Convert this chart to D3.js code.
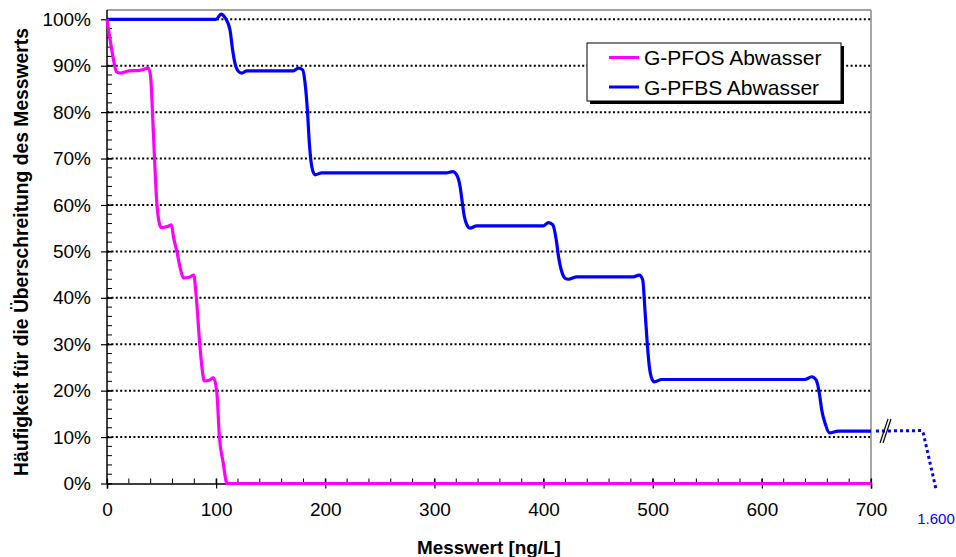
<!DOCTYPE html>
<html>
<head>
<meta charset="utf-8">
<script src="https://cdn.jsdelivr.net/npm/d3@7"></script>
<style>
  body { margin: 0; background: #fff; }
  svg { font-family: "Liberation Sans", Arial, sans-serif; }
</style>
</head>
<body>
<svg id="chart" width="956" height="557"></svg>
<script>
// Messwert [ng/L], Häufigkeit [%]
var pfos = [
  [0, 100], [4.3, 93.5], [9, 88.6], [12, 88.4], [20, 88.9], [30, 89.0], [38, 89.5],
  [40, 87.5], [42.5, 75.5], [45.5, 61], [48, 56], [50, 55.1], [56, 55.4], [59, 55.7],
  [61, 53], [64, 50], [67, 46.5], [70, 44.3], [76, 44.5], [79.5, 44.9], [81.5, 41],
  [85, 30], [88, 23.2], [89, 22.1], [94, 22.3], [97.4, 22.8], [100.5, 20], [103, 10],
  [106.5, 4.4], [110, 0], [700, 0]
];
var pfbs = [
  [0, 100], [100, 100], [104.6, 101.1], [108, 100.4], [112.7, 97.7], [115.1, 93.4],
  [117.2, 90.6], [120.3, 88.8], [123.4, 88.4], [128, 88.9], [170.7, 88.9], [175.3, 89.5],
  [179.3, 89.1], [181.5, 86.2], [183.6, 80.5], [185.4, 73.3], [187.6, 68.3], [190.6, 66.5],
  [196.7, 66.9], [311, 66.9], [316.7, 67.2], [320.4, 66.5], [323.5, 64], [325.6, 60.4],
  [327.4, 57.5], [330.2, 55.5], [332.6, 55.0], [338.7, 55.5], [400, 55.5], [404.5, 56.2],
  [408.5, 55.7], [411.6, 52.5], [413.7, 48.9], [416.7, 45.6], [419.8, 44.2], [422.8, 44.0],
  [430.5, 44.5], [482, 44.5], [487.7, 44.9], [490.8, 43.9], [492.9, 37.4], [495, 30.2],
  [496.9, 25.2], [499, 22.7], [501.5, 21.9], [508.2, 22.4], [639.5, 22.4], [645.7, 23.0],
  [649.7, 22.3], [652.7, 19.4], [654.9, 15.8], [657.9, 13], [661.9, 10.9], [670.2, 11.3],
  [700, 11.3]
];
// continuation after the axis break (up to the last value 1.600 ng/L)
var pfbsBreak = [[700, 11.3], [1385, 11.4], [1410, 10.8], [1600, -1.2]];
var breakLabel = "1.600";

var xTicks = [0, 100, 200, 300, 400, 500, 600, 700];
var yTicks = [0, 10, 20, 30, 40, 50, 60, 70, 80, 90, 100];
var legendNames = ["G-PFOS Abwasser", "G-PFBS Abwasser"];
var colors = ["#ff00ff", "#0000ff"];

var svg = d3.select("#chart");
var pl = 107, pr = 871, pt = 10, pb = 483.5;

var x = d3.scaleLinear().domain([0, 700]).range([pl, pr]);
var y = d3.scaleLinear().domain([0, 102]).range([pb, pt]);
var xb = d3.scaleLinear().domain([700, 1600]).range([pr + 5, 936]);

// grid
svg.append("g").selectAll("line")
  .data(yTicks.filter(function(d) { return d > 0; }))
  .join("line")
  .attr("x1", pl).attr("x2", pr)
  .attr("y1", function(d) { return y(d); }).attr("y2", function(d) { return y(d); })
  .attr("stroke", "#000").attr("stroke-width", 2)
  .attr("stroke-dasharray", "2,2.4");

// frame top / right
svg.append("line").attr("x1", pl).attr("x2", pr).attr("y1", pt).attr("y2", pt)
  .attr("stroke", "#444").attr("stroke-width", 1);
svg.append("line").attr("x1", pr).attr("x2", pr).attr("y1", pt).attr("y2", pb)
  .attr("stroke", "#888").attr("stroke-width", 1.5);

// minor ticks (inside)
var minorX = d3.range(0, 701, 20);
var minorY = d3.range(0, 101, 2);
svg.append("g").selectAll("line").data(minorX).join("line")
  .attr("x1", function(d) { return x(d); }).attr("x2", function(d) { return x(d); })
  .attr("y1", pb).attr("y2", pb - 5)
  .attr("stroke", "#000").attr("stroke-width", 1);
svg.append("g").selectAll("line").data(minorY).join("line")
  .attr("y1", function(d) { return y(d); }).attr("y2", function(d) { return y(d); })
  .attr("x1", pl).attr("x2", pl + 5)
  .attr("stroke", "#000").attr("stroke-width", 1);

// axes
var xAxis = svg.append("g")
  .attr("transform", "translate(0," + pb + ")")
  .call(d3.axisBottom(x).tickValues(xTicks).tickSize(5).tickPadding(14).tickFormat(d3.format("d")));
xAxis.select(".domain").attr("stroke", "#000").attr("stroke-width", 1.5);
xAxis.selectAll(".tick line").attr("y1", -5).attr("stroke-width", 1.2);
xAxis.selectAll("text").attr("font-size", 19).attr("fill", "#000").attr("font-family", "Liberation Sans, Arial");

var yAxis = svg.append("g")
  .attr("transform", "translate(" + pl + ",0)")
  .call(d3.axisLeft(y).tickValues(yTicks).tickSize(6).tickPadding(10)
    .tickFormat(function(d) { return d + "%"; }));
yAxis.select(".domain").attr("d", "M0," + pb + "V" + pt).attr("stroke", "#000").attr("stroke-width", 1.5);
yAxis.selectAll(".tick line").attr("x2", -6).attr("x1", 5).attr("stroke-width", 1.2);
yAxis.selectAll("text").attr("font-size", 19).attr("fill", "#000").attr("font-family", "Liberation Sans, Arial");

// series
var line = d3.line()
  .x(function(d) { return x(d[0]); })
  .y(function(d) { return y(d[1]); })
  .curve(d3.curveMonotoneX);

svg.append("path").datum(pfbs)
  .attr("fill", "none").attr("stroke", colors[1]).attr("stroke-width", 3.2)
  .attr("stroke-linejoin", "round").attr("d", line);
svg.append("path").datum(pfos)
  .attr("fill", "none").attr("stroke", colors[0]).attr("stroke-width", 3.2)
  .attr("stroke-linejoin", "round").attr("d", line);

// break continuation
var lineBreak = d3.line()
  .x(function(d) { return xb(d[0]); })
  .y(function(d) { return y(d[1]); });
svg.append("path").datum(pfbsBreak)
  .attr("fill", "none").attr("stroke", colors[1]).attr("stroke-width", 3)
  .attr("stroke-dasharray", "3,3").attr("d", lineBreak);

// break marks
var by = y(pfbsBreak[0][1]);
[0, 3].forEach(function(o) {
  svg.append("line")
    .attr("x1", pr + 9 + o).attr("y1", by + 12)
    .attr("x2", pr + 17 + o).attr("y2", by - 12)
    .attr("stroke", "#000").attr("stroke-width", 1.2);
});

svg.append("text")
  .attr("x", xb(1600)).attr("y", 524)
  .attr("text-anchor", "middle")
  .attr("font-size", 15).attr("fill", colors[1])
  .text(breakLabel);

// axis titles
svg.append("text")
  .attr("x", 489).attr("y", 554)
  .attr("text-anchor", "middle").attr("font-weight", "bold").attr("font-size", 18.9)
  .text("Messwert [ng/L]");
svg.append("text")
  .attr("transform", "translate(28,252) rotate(-90)")
  .attr("text-anchor", "middle").attr("font-weight", "bold").attr("font-size", 19.3)
  .text("Häufigkeit für die Überschreitung des Messwerts");

// legend
var lg = svg.append("g").attr("transform", "translate(587,43)");
lg.append("rect").attr("x", 3).attr("y", 3).attr("width", 254).attr("height", 58).attr("fill", "#000");
lg.append("rect").attr("width", 254).attr("height", 58).attr("fill", "#fff")
  .attr("stroke", "#000").attr("stroke-width", 1);
legendNames.forEach(function(name, i) {
  var yy = 14.5 + i * 29.5;
  lg.append("line").attr("x1", 22).attr("x2", 52).attr("y1", yy).attr("y2", yy)
    .attr("stroke", colors[i]).attr("stroke-width", 3);
  lg.append("text").attr("x", 57).attr("y", yy + 7.5)
    .attr("font-size", 21).attr("fill", "#000").text(name);
});
</script>
</body>
</html>
